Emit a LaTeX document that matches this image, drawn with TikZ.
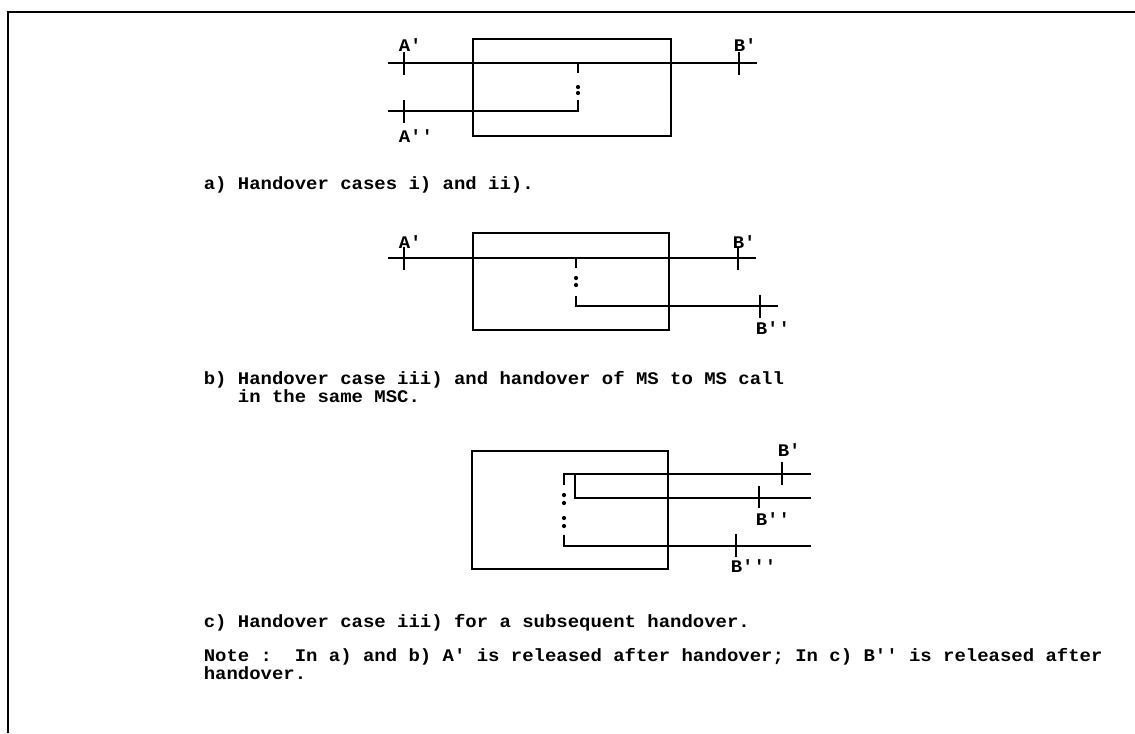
\documentclass[tikz,border=0pt]{standalone}
\usepackage{fontspec}
\setmonofont{Liberation Mono}[FakeStretch=1.07]

\begin{document}
\begin{tikzpicture}[x=0.025cm,y=-0.025cm,line width=1.1pt,
  font=\ttfamily\bfseries\fontsize{12.6}{12.8}\selectfont,
  lbl/.style={inner sep=0pt,anchor=base west,align=left}]
\useasboundingbox (0,0) rectangle (1135,733);
\draw[line width=2pt] (8,733) -- (8,12) -- (1135,12);
% a) handover cases i) and ii)
\draw (473,39) rectangle (671,136);
\coordinate (aW) at (388,63); \coordinate (aE) at (757,63); \coordinate (aJ) at (578,63);
\coordinate (aW2) at (388,111); \coordinate (aJ2) at (578,111);
\draw (aW) -- (aE); \draw (aW2) -- (aJ2) -- ++(0,-11); \draw (aJ) -- ++(0,10);
\fill (578,87) circle (1.5pt); \fill (578,93) circle (1.5pt);
\draw (404,52) -- (404,75); \draw (739,52) -- (739,75); \draw (404,100) -- (404,123);
\node[lbl] (aA1) at (398,51) {A'}; \node[lbl] (aB1) at (733,51) {B'};
\node[lbl] (aA2) at (398,142) {A''};
\node[lbl] (capa) at (203,189) {a) Handover cases i) and ii).};
% b) handover case iii)
\draw (473,233) rectangle (669,330);
\coordinate (bW) at (388,258); \coordinate (bE) at (756,258); \coordinate (bJ) at (576,258);
\coordinate (bJ2) at (576,306); \coordinate (bE2) at (778,306);
\draw (bW) -- (bE); \draw (bJ) -- ++(0,10); \draw (bE2) -- (bJ2) -- ++(0,-10);
\fill (576,278) circle (1.5pt); \fill (576,285) circle (1.5pt);
\draw (404,247) -- (404,270); \draw (738,247) -- (738,270); \draw (760,295) -- (760,318);
\node[lbl] (bA1) at (398,248) {A'}; \node[lbl] (bB1) at (732,248) {B'};
\node[lbl] (bB2) at (755,334) {B''};
\node[lbl] (capb) at (203,402) {b) Handover case iii) and handover of MS to MS call\\\hphantom{b)\ }in the same MSC.};
% c) subsequent handover
\draw (472,451) rectangle (668,569);
\coordinate (cJ1) at (564,474); \coordinate (cE1) at (811,474); \coordinate (cJ2) at (575,474);
\coordinate (cK2) at (575,498); \coordinate (cE2) at (811,498);
\coordinate (cJ3) at (564,546); \coordinate (cE3) at (811,546);
\draw (cE1) -- (cJ1) -- ++(0,11); \draw (cJ2) -- (cK2) -- (cE2); \draw (cE3) -- (cJ3) -- ++(0,-11);
\foreach \y in {495,503,518,526} \fill (564,\y) circle (1.5pt);
\draw (782,462) -- (782,485); \draw (759,486) -- (759,508); \draw (736,534) -- (736,557);
\node[lbl] (cB1) at (777,456) {B'}; \node[lbl] (cB2) at (755,525) {B''};
\node[lbl] (cB3) at (730,572) {B'''};
\node[lbl] (capc) at (203,627) {c) Handover case iii) for a subsequent handover.};
\node[lbl] (note) at (203,679) {Note :\ \ In a) and b) A' is released after handover; In c) B'' is released after\\handover.};
\end{tikzpicture}
\end{document}
